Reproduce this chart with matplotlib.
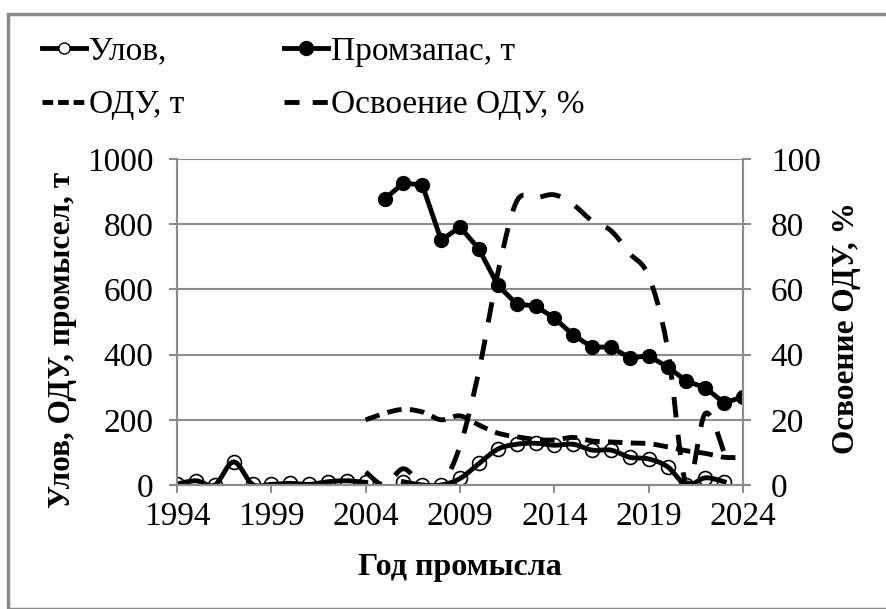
import numpy as np
import matplotlib
matplotlib.use("Agg")
import matplotlib.pyplot as plt
from matplotlib.lines import Line2D
from matplotlib.patches import Rectangle

plt.rcParams['font.family'] = ['Liberation Serif', 'DejaVu Serif']

years = list(range(1994, 2025))
nan = np.nan

# Улов, т (1994-2023, 2005 нет данных)
catch = [3, 13, 0, 71, 2, 2, 5, 2, 10, 13, 8,
         nan, 10, 0, 0, 20, 66, 110, 125, 128, 122, 125,
         107, 107, 85, 80, 56, 0, 22, 10, nan]
# Промзапас, т (2005-2024)
stock = [nan] * 11 + [877, 926, 920, 751, 791, 724, 613, 555, 549, 512,
                      460, 423, 423, 390, 396, 362, 319, 298, 252, 270]
# ОДУ, т (2004-2024)
tac = [nan] * 10 + [200, 220, 232, 224, 200, 212, 184, 159, 148, 140, 138,
                    146, 135, 132, 129, 127, 117, 105, 97, 85, 85]
# Освоение ОДУ, % (2004-2023)
usage = [nan] * 10 + [4, 0, 5, 0, 0, 12, 35, 65, 87, 88, 89,
                      86, 81, 78, 71, 64, 42, 0, 22, 10, nan]


def smooth(x, y, n=12):
    # сглаживание как в Excel (Catmull-Rom) по непрерывным участкам
    x = np.asarray(x, float)
    y = np.asarray(y, float)
    xs, ys = [], []
    ok = ~np.isnan(y)
    i = 0
    while i < len(y):
        if not ok[i]:
            i += 1
            continue
        j = i
        while j + 1 < len(y) and ok[j + 1]:
            j += 1
        px, py = x[i:j + 1], y[i:j + 1]
        if len(px) == 1:
            xs += [px[0]]
            ys += [py[0]]
        else:
            ex = np.concatenate([[px[0]], px, [px[-1]]])
            ey = np.concatenate([[py[0]], py, [py[-1]]])
            t = np.linspace(0, 1, n, endpoint=False)
            for k in range(1, len(ex) - 2):
                p0, p1, p2, p3 = ey[k - 1], ey[k], ey[k + 1], ey[k + 2]
                q0, q1, q2, q3 = ex[k - 1], ex[k], ex[k + 1], ex[k + 2]
                for tt in t:
                    xs.append(0.5 * (2 * q1 + (-q0 + q2) * tt + (2 * q0 - 5 * q1 + 4 * q2 - q3) * tt ** 2 + (-q0 + 3 * q1 - 3 * q2 + q3) * tt ** 3))
                    ys.append(0.5 * (2 * p1 + (-p0 + p2) * tt + (2 * p0 - 5 * p1 + 4 * p2 - p3) * tt ** 2 + (-p0 + 3 * p1 - 3 * p2 + p3) * tt ** 3))
            xs.append(px[-1])
            ys.append(py[-1])
        xs.append(nan)
        ys.append(nan)
        i = j + 1
    return xs, ys


fig = plt.figure(figsize=(8.87, 6.09), dpi=100)
fig.patches.append(Rectangle((8 / 887, 0), 1, 1 - 14 / 609, transform=fig.transFigure,
                             fill=False, edgecolor='#898989', linewidth=2.5))

ax = fig.add_axes([0.1996, 0.2036, 0.6381, 0.5354])
ax2 = ax.twinx()

fs = 24
lw = 3.5

sx, sy = smooth(years, catch)
ax.plot(sx, sy, color='black', linewidth=lw)
ax.plot(years, catch, linestyle='none', marker='o', markersize=10,
        markerfacecolor='none', markeredgecolor='black', markeredgewidth=1.2)

ax.plot(years, stock, color='black', linewidth=lw, marker='o', markersize=10)

tx, ty = smooth(years, tac)
ax.plot(tx, ty, color='black', linewidth=lw, dashes=(3, 1.7))

ux, uy = smooth(years, usage)
ax2.plot(ux, uy, color='black', linewidth=lw, dashes=(4.2, 3.6))

ax.set_xlim(1994, 2024)
ax.set_ylim(0, 1000)
ax2.set_ylim(0, 100)
ax.set_xticks(range(1994, 2025, 5))
ax.set_yticks(range(0, 1001, 200))
ax2.set_yticks(range(0, 101, 20))
ax.grid(axis='y', color='#8c8c8c', linewidth=1.5)
ax.set_axisbelow(True)

for a in (ax, ax2):
    for s in a.spines.values():
        s.set_color('#8c8c8c')
        s.set_linewidth(1.5)
    a.spines['top'].set_visible(False)
    a.tick_params(colors='#8c8c8c', labelcolor='black', labelsize=fs,
                  width=1.5, length=6)
ax.tick_params(axis='x', pad=6)
ax.tick_params(axis='y', pad=11)
ax2.tick_params(axis='y', pad=14)

ax.set_ylabel('Улов, ОДУ, промысел, т', fontsize=22.5, fontweight='bold', va='center')
ax.yaxis.set_label_coords(-0.203, 0.445)
ax2.set_ylabel('Освоение ОДУ, %', fontsize=22.5, fontweight='bold', va='center')
ax2.yaxis.set_label_coords(1.183, 0.48)
ax.set_xlabel('Год промысла', fontsize=23, fontweight='bold', va='center')
ax.xaxis.set_label_coords(0.5, -0.252)

# легенда по строкам, как в исходнике
h_catch = Line2D([], [], color='black', linewidth=lw, marker='o', markersize=8,
                 markerfacecolor='white', markeredgecolor='black')
h_stock = Line2D([], [], color='black', linewidth=lw, marker='o', markersize=10)
h_tac = Line2D([], [], color='black', linewidth=lw, dashes=(2.2, 1.0))
h_use = Line2D([], [], color='black', linewidth=lw, dashes=(3.1, 2.7))
fig.legend([h_catch, h_tac, h_stock, h_use],
           ['Улов,', 'ОДУ, т', 'Промзапас, т', 'Освоение ОДУ, %'],
           ncol=2, loc='upper left', bbox_to_anchor=(0.014, 0.99), frameon=False,
           fontsize=fs, handlelength=1.3, handletextpad=0.1, columnspacing=3.0,
           labelspacing=0.7)

fig.savefig('out.png', dpi=100)
